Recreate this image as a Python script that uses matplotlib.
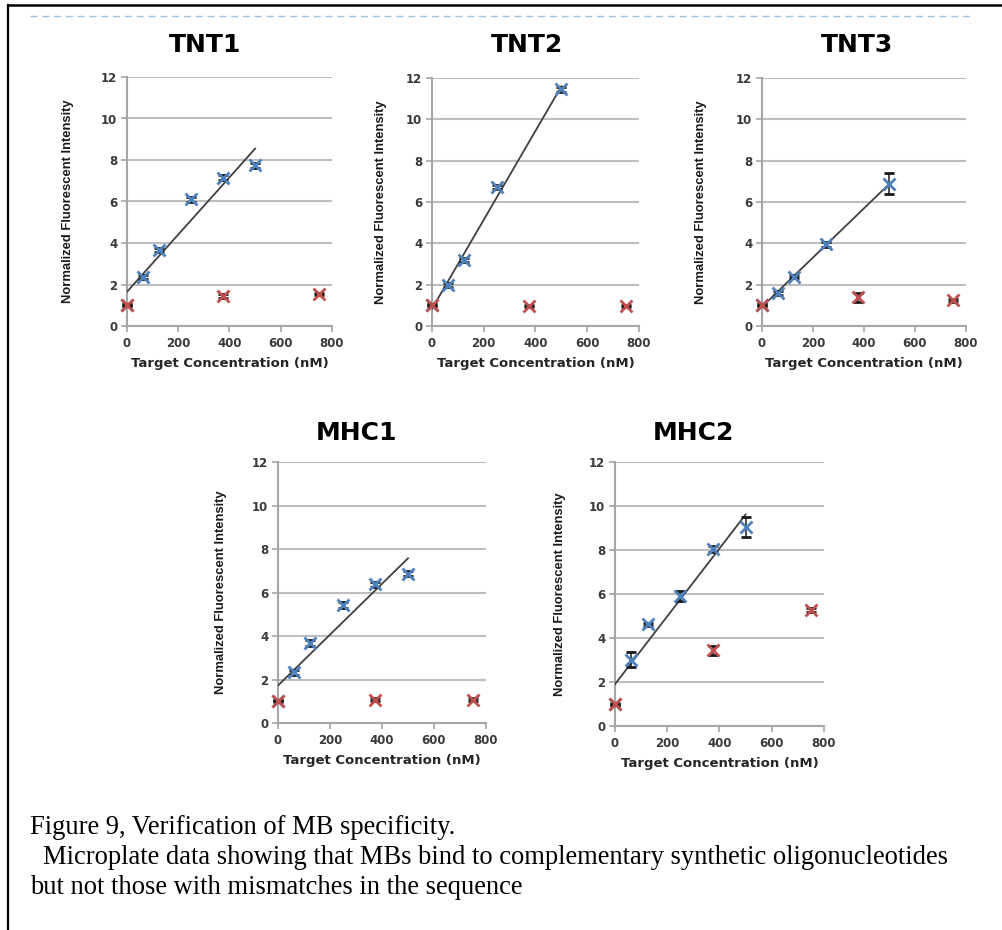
import numpy as np
import matplotlib
matplotlib.use("Agg")
import matplotlib.pyplot as plt
from matplotlib.lines import Line2D

# ---------------- data ----------------
titles = ["TNT1", "TNT2", "TNT3", "MHC1", "MHC2"]

tnt1_blue_x = [0, 62.5, 125, 250, 375, 500]
tnt1_blue_y = [1.0, 2.35, 3.65, 6.1, 7.15, 7.75]
tnt1_blue_e = [0.05, 0.1, 0.1, 0.13, 0.12, 0.12]
tnt1_red_x = [0, 375, 750]
tnt1_red_y = [1.0, 1.45, 1.55]
tnt1_red_e = [0.05, 0.08, 0.06]

tnt2_blue_x = [0, 62.5, 125, 250, 500]
tnt2_blue_y = [1.0, 1.98, 3.2, 6.72, 11.45]
tnt2_blue_e = [0.05, 0.1, 0.1, 0.1, 0.12]
tnt2_red_x = [0, 375, 750]
tnt2_red_y = [1.0, 0.98, 0.97]
tnt2_red_e = [0.05, 0.05, 0.05]

tnt3_blue_x = [0, 62.5, 125, 250, 500]
tnt3_blue_y = [1.0, 1.6, 2.38, 3.96, 6.88]
tnt3_blue_e = [0.05, 0.08, 0.08, 0.12, 0.5]
tnt3_red_x = [0, 375, 750]
tnt3_red_y = [1.0, 1.38, 1.25]
tnt3_red_e = [0.05, 0.2, 0.08]

mhc1_blue_x = [0, 62.5, 125, 250, 375, 500]
mhc1_blue_y = [1.0, 2.33, 3.68, 5.43, 6.38, 6.87]
mhc1_blue_e = [0.05, 0.12, 0.12, 0.12, 0.12, 0.12]
mhc1_red_x = [0, 375, 750]
mhc1_red_y = [1.03, 1.07, 1.07]
mhc1_red_e = [0.03, 0.06, 0.06]

mhc2_blue_x = [0, 62.5, 125, 250, 375, 500]
mhc2_blue_y = [1.0, 3.02, 4.62, 5.92, 8.04, 9.05]
mhc2_blue_e = [0.05, 0.35, 0.08, 0.22, 0.12, 0.45]
mhc2_red_x = [0, 375, 750]
mhc2_red_y = [0.98, 3.44, 5.28]
mhc2_red_e = [0.03, 0.2, 0.1]

x_ticks = [0, 200, 400, 600, 800]
y_ticks = [0, 2, 4, 6, 8, 10, 12]
x_label = "Target Concentration (nM)"
y_label = "Normalized Fluorescent Intensity"
caption = ["Figure 9, Verification of MB specificity.",
           "Microplate data showing that MBs bind to complementary synthetic oligonucleotides",
           "but not those with mismatches in the sequence"]

series = [
    (tnt1_blue_x, tnt1_blue_y, tnt1_blue_e, tnt1_red_x, tnt1_red_y, tnt1_red_e),
    (tnt2_blue_x, tnt2_blue_y, tnt2_blue_e, tnt2_red_x, tnt2_red_y, tnt2_red_e),
    (tnt3_blue_x, tnt3_blue_y, tnt3_blue_e, tnt3_red_x, tnt3_red_y, tnt3_red_e),
    (mhc1_blue_x, mhc1_blue_y, mhc1_blue_e, mhc1_red_x, mhc1_red_y, mhc1_red_e),
    (mhc2_blue_x, mhc2_blue_y, mhc2_blue_e, mhc2_red_x, mhc2_red_y, mhc2_red_e),
]

# ---------------- layout (pixels) ----------------
W, H = 1003, 930
boxes = [(127, 332, 77, 326), (432, 639, 78, 326), (762, 966, 78, 326),
         (278, 486, 462, 723), (615, 824, 462, 726)]
title_pos = [(205, 45), (527, 45), (857, 45), (357, 433), (693, 433)]
ylabel_dx = [-53, -45, -55, -51, -49]

fig = plt.figure(figsize=(W / 100, H / 100), dpi=100)
fig.patch.set_facecolor("white")
renderer = fig.canvas.get_renderer()

BLUE = "#4F81BD"
RED = "#C0504D"
GRID = "#BEBEBE"
TICKC = "#3A3A3A"


def fit_size(txt, target, vertical=False):
    bb = txt.get_window_extent(renderer)
    cur = bb.height if vertical else bb.width
    if cur > 0:
        txt.set_fontsize(txt.get_fontsize() * target / cur)


for i, (L, R, T, B) in enumerate(boxes):
    ax = fig.add_axes([L / W, 1 - B / H, (R - L) / W, (B - T) / H])
    bx, by, be, rx, ry, re = series[i]
    ax.set_xlim(0, 800)
    ax.set_ylim(0, 12)
    ax.set_xticks(x_ticks)
    ax.set_yticks(y_ticks)
    ax.grid(axis="y", color=GRID, linewidth=1.5, zorder=0)
    ax.set_axisbelow(True)
    for s in ["top", "right"]:
        ax.spines[s].set_visible(False)
    for s in ["left", "bottom"]:
        ax.spines[s].set_color("#A6A6A6")
        ax.spines[s].set_linewidth(1.5)
    ax.tick_params(axis="both", colors="#A6A6A6", length=4, width=1.2,
                   labelcolor=TICKC)
    ax.tick_params(axis="x", pad=4)
    ax.tick_params(axis="y", pad=3)
    for lab in ax.get_xticklabels() + ax.get_yticklabels():
        lab.set_fontfamily(["DejaVu Sans"])
        lab.set_fontweight("bold")
        lab.set_fontsize(8.5)

    # trendline from blue series fit
    coef = np.polyfit(bx, by, 1)
    xx = np.array([min(bx), max(bx)])
    ax.plot(xx, np.polyval(coef, xx), color="#404040", lw=1.3, zorder=4)

    ax.errorbar(bx, by, yerr=be, fmt="x", color=BLUE, ms=8, mew=2,
                ecolor="#1a1a1a", elinewidth=1.1, capsize=3.5, capthick=1.1,
                zorder=5, clip_on=False)
    ax.errorbar(rx, ry, yerr=re, fmt="x", color=RED, ms=8, mew=2,
                ecolor="#1a1a1a", elinewidth=1.1, capsize=3.5, capthick=1.1,
                zorder=6, clip_on=False)

    xl = ax.set_xlabel(x_label, fontfamily=["DejaVu Sans"], fontweight="bold",
                       fontsize=9.5, color="#262626", labelpad=5)
    fit_size(xl, 198)
    yl = ax.set_ylabel(y_label, fontfamily=["Liberation Sans", "DejaVu Sans"],
                       fontweight="bold", fontsize=9.5, color="#1a1a1a")
    fit_size(yl, 205, vertical=True)
    ax.yaxis.set_label_coords(ylabel_dx[i] / (R - L), 0.5)

    tx, ty = title_pos[i]
    fig.text(tx / W, 1 - ty / H, titles[i], ha="center", va="center",
             fontsize=18, fontweight="bold",
             fontfamily=["DejaVu Sans"], color="black")

# frame lines and dashed separator
fig.add_artist(Line2D([8 / W, 1.0], [1 - 5.5 / H, 1 - 5.5 / H], color="black",
                      lw=1.8, transform=fig.transFigure))
fig.add_artist(Line2D([8.5 / W, 8.5 / W], [1 - 5 / H, 0], color="black",
                      lw=1.6, transform=fig.transFigure))
fig.add_artist(Line2D([30 / W, 972 / W], [1 - 16 / H, 1 - 16 / H], color="#9DC3E6",
                      lw=1.0, linestyle=(0, (5, 3.5)), transform=fig.transFigure))

# caption
cap_pos = [(30, 827), (43, 857), (30, 887)]
cap_texts = []
for (cx, cy), txt in zip(cap_pos, caption):
    cap_texts.append(fig.text(cx / W, 1 - cy / H, txt, ha="left", va="center",
                              fontsize=17.5,
                              fontfamily=["Liberation Serif", "DejaVu Serif"],
                              color="black"))
fit_size(cap_texts[1], 907)
for t in cap_texts:
    t.set_fontsize(cap_texts[1].get_fontsize())

fig.savefig("out.png", dpi=100, facecolor="white")
